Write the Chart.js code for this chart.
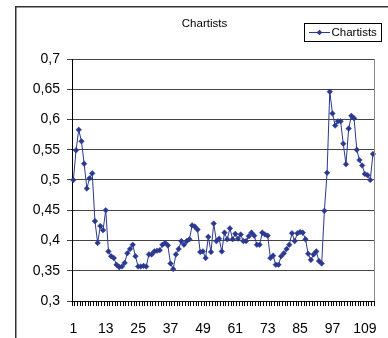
<!DOCTYPE html>
<html>
<head>
<meta charset="utf-8">
<script src="https://cdn.jsdelivr.net/npm/chart.js@4/dist/chart.umd.min.js"></script>
<style>
  html, body { margin: 0; padding: 0; background: #fff; }
  #wrap { position: relative; width: 388px; height: 338px; }
</style>
</head>
<body>
<div id="wrap"><canvas id="c" width="388" height="338"></canvas></div>
<script>
// Series name and title
const chartTitle = 'Chartists';
const seriesName = 'Chartists';

// Period numbers 1..112
const categories = Array.from({ length: 112 }, (_, i) => String(i + 1));

// Category labels printed under the axis (every 12th period)
const shownCategoryLabels = ['1', '13', '25', '37', '49', '61', '73', '85', '97', '109'];

// Value axis labels, decimal comma
const yTickLabels = ['0,3', '0,35', '0,4', '0,45', '0,5', '0,55', '0,6', '0,65', '0,7'];

// Share of chartists per period
const chartistValues = [
  0.500, 0.549, 0.583, 0.564, 0.527, 0.486, 0.503, 0.511, 0.432, 0.396,
  0.424, 0.417, 0.450, 0.382, 0.374, 0.371, 0.360, 0.356, 0.357, 0.363,
  0.379, 0.386, 0.393, 0.374, 0.357, 0.357, 0.358, 0.357, 0.377, 0.377,
  0.382, 0.383, 0.384, 0.393, 0.396, 0.392, 0.362, 0.353, 0.377, 0.386,
  0.399, 0.393, 0.399, 0.402, 0.425, 0.423, 0.418, 0.381, 0.382, 0.371,
  0.406, 0.381, 0.428, 0.399, 0.403, 0.382, 0.413, 0.402, 0.420, 0.402,
  0.411, 0.403, 0.410, 0.399, 0.399, 0.407, 0.413, 0.408, 0.393, 0.393,
  0.413, 0.410, 0.408, 0.371, 0.375, 0.360, 0.360, 0.374, 0.379, 0.386,
  0.393, 0.412, 0.399, 0.412, 0.414, 0.413, 0.402, 0.378, 0.368, 0.377,
  0.382, 0.366, 0.362, 0.449, 0.512, 0.646, 0.610, 0.590, 0.597, 0.597,
  0.560, 0.526, 0.585, 0.606, 0.602, 0.550, 0.533, 0.524, 0.510, 0.508,
  0.500, 0.543
];

const FONT = '"Liberation Sans", Arial, sans-serif';
const LINE_COLOR = '#2a3890';

// Outer chart frame, plot-area right edge, title and boxed legend
const decorations = {
  id: 'decorations',
  beforeDraw(chart) {
    const ctx = chart.ctx;
    ctx.save();
    ctx.fillStyle = '#fff';
    ctx.fillRect(0, 0, chart.width, chart.height);
    ctx.restore();
  },
  afterDraw(chart) {
    const ctx = chart.ctx;
    const a = chart.chartArea;
    ctx.save();
    // chart object frame
    ctx.strokeStyle = '#333';
    ctx.lineWidth = 1.5;
    ctx.beginPath();
    ctx.moveTo(15.75, chart.height + 2);
    ctx.lineTo(15.75, 6.75);
    ctx.lineTo(chart.width + 2, 6.75);
    ctx.stroke();

    // plot area right border
    ctx.strokeStyle = '#8a8a8a';
    ctx.lineWidth = 1;
    ctx.beginPath();
    ctx.moveTo(Math.round(a.right) + 0.5, a.top);
    ctx.lineTo(Math.round(a.right) + 0.5, a.bottom);
    ctx.stroke();

    // title
    ctx.fillStyle = '#000';
    ctx.font = '11.5px ' + FONT;
    ctx.textAlign = 'center';
    ctx.textBaseline = 'middle';
    ctx.fillText(chartTitle, 204.5, 24);

    // legend
    const ds = chart.data.datasets[0];
    ctx.strokeStyle = '#000';
    ctx.lineWidth = 1;
    ctx.strokeRect(304.5, 23.5, 77, 18);
    ctx.strokeStyle = ds.borderColor;
    ctx.beginPath();
    ctx.moveTo(309, 32.5);
    ctx.lineTo(330, 32.5);
    ctx.stroke();
    ctx.fillStyle = ds.pointBackgroundColor;
    ctx.beginPath();
    ctx.moveTo(319.5 - 2.8, 32.5);
    ctx.lineTo(319.5, 32.5 - 2.8);
    ctx.lineTo(319.5 + 2.8, 32.5);
    ctx.lineTo(319.5, 32.5 + 2.8);
    ctx.closePath();
    ctx.fill();
    ctx.fillStyle = '#000';
    ctx.textAlign = 'left';
    ctx.fillText(ds.label, 331.5, 33);
    ctx.restore();
  }
};

new Chart(document.getElementById('c'), {
  type: 'line',
  data: {
    labels: categories,
    datasets: [{
      label: seriesName,
      data: chartistValues,
      borderColor: LINE_COLOR,
      backgroundColor: LINE_COLOR,
      pointBackgroundColor: LINE_COLOR,
      pointBorderColor: LINE_COLOR,
      borderWidth: 1,
      pointStyle: 'rectRot',
      pointRadius: 2.8,
      pointBorderWidth: 0.5,
      tension: 0,
      fill: false
    }]
  },
  options: {
    responsive: false,
    animation: false,
    devicePixelRatio: 1,
    layout: { padding: { left: 0, right: 8, top: 59, bottom: 0 } },
    plugins: {
      legend: { display: false },
      title: { display: false },
      tooltip: { enabled: false }
    },
    scales: {
      x: {
        type: 'category',
        offset: true,
        grid: {
          display: true,
          offset: true,
          drawOnChartArea: false,
          drawTicks: true,
          tickLength: 5,
          color: '#000',
          lineWidth: 1
        },
        border: { display: true, color: '#000', width: 1 },
        ticks: {
          autoSkip: false,
          maxRotation: 0,
          minRotation: 0,
          padding: 15,
          color: '#000',
          font: { family: FONT, size: 14 },
          callback(value, index) {
            const lab = categories[index];
            return shownCategoryLabels.includes(lab) ? lab : '';
          }
        },
        afterFit(scale) { scale.height = 37; }
      },
      y: {
        type: 'linear',
        min: 0.3,
        max: 0.7,
        grid: {
          color: '#444',
          lineWidth: 1,
          tickLength: 5,
          drawTicks: true
        },
        border: { display: true, color: '#000', width: 1 },
        ticks: {
          stepSize: 0.05,
          padding: 7,
          color: '#000',
          font: { family: FONT, size: 14 },
          callback(value) {
            const k = Math.round((value - 0.3) / 0.05);
            return yTickLabels[k];
          }
        },
        afterFit(scale) { scale.width = 72; }
      }
    }
  },
  plugins: [decorations]
});
</script>
</body>
</html>
